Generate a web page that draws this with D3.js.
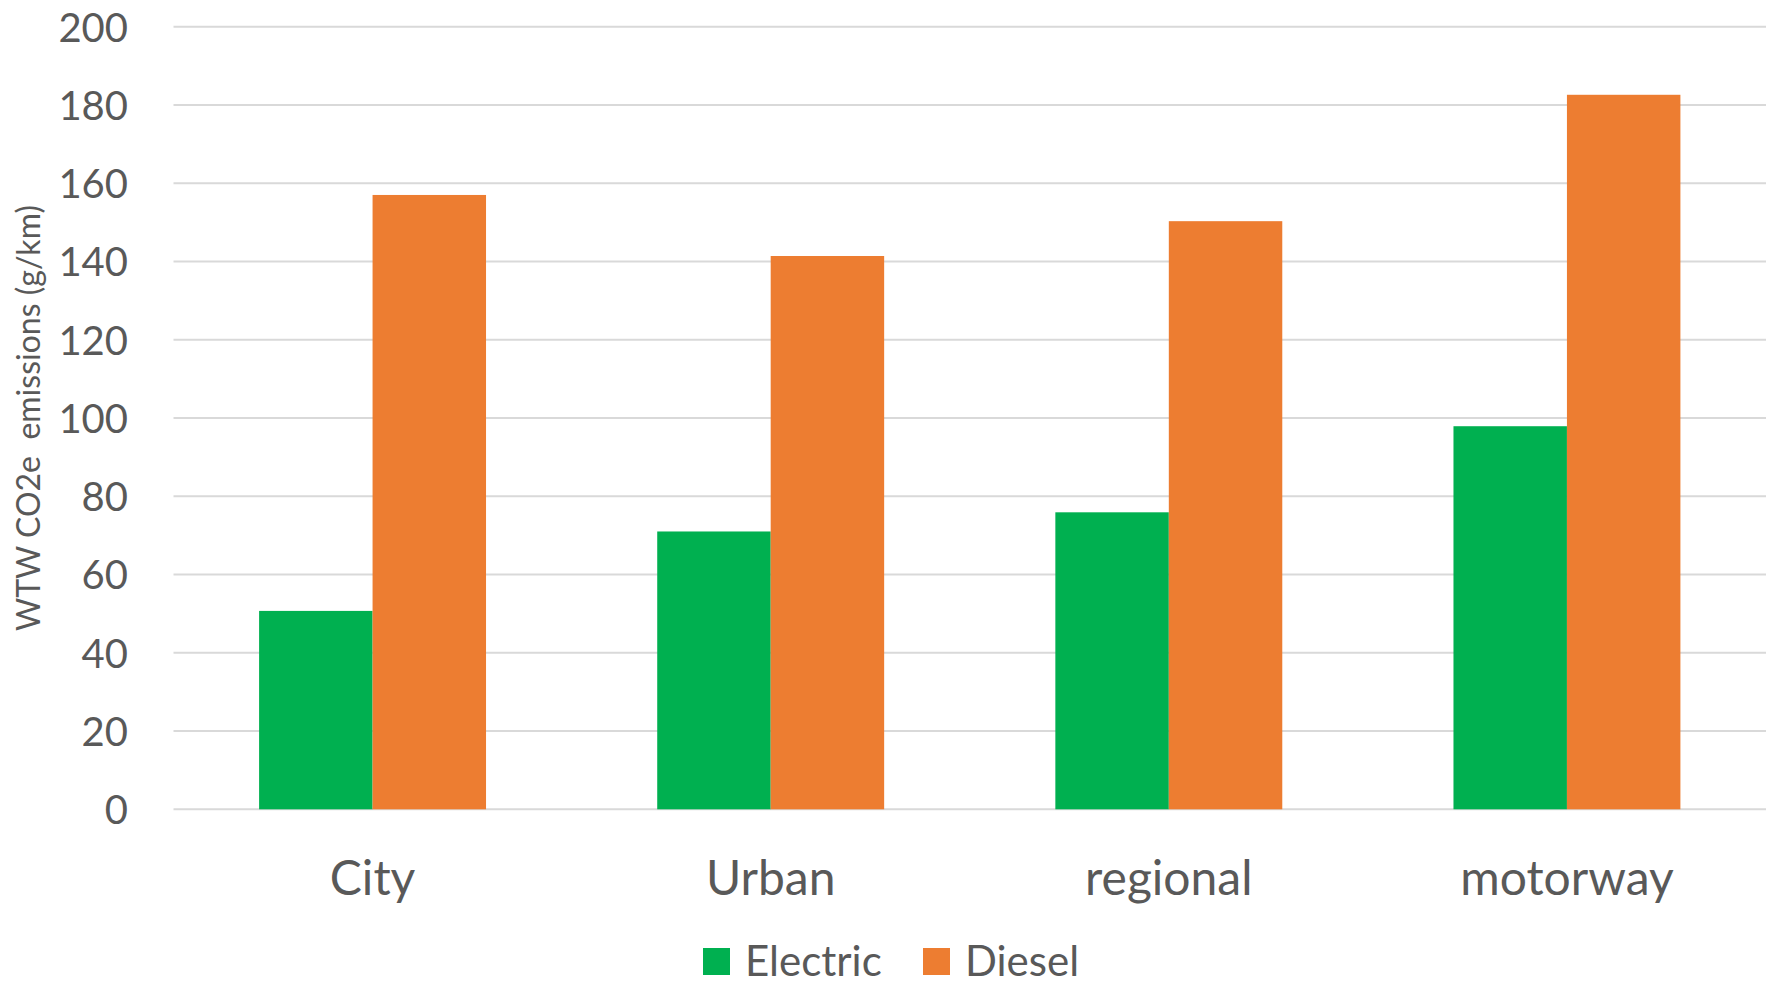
<!DOCTYPE html>
<html>
<head>
<meta charset="utf-8">
<script src="https://cdn.jsdelivr.net/npm/d3@7"></script>
<style>
  html, body { margin: 0; padding: 0; background: #fff; overflow: hidden; }
  svg { display: block; }
</style>
</head>
<body>
<svg id="chart" width="1775" height="982"></svg>
<script>
const categories = ["City", "Urban", "regional", "motorway"];
const seriesNames = ["Electric", "Diesel"];
const electricValues = [50.7, 71.0, 75.9, 97.9];
const dieselValues = [157.0, 141.4, 150.3, 182.6];
const yTicks = [0, 20, 40, 60, 80, 100, 120, 140, 160, 180, 200];
const yTitle = "WTW CO2e\u00a0 emissions (g/km)";
const colors = ["#00b050", "#ed7d31"];

const svg = d3.select("#chart");
const textColor = "#595959";
const font = "Lato, 'Open Sans', sans-serif";

const plotLeft = 173.5, plotRight = 1766, plotTop = 26.7, plotBottom = 809.3;

const x = d3.scaleBand().domain(categories).range([plotLeft, plotRight])
  .paddingInner(0.43).paddingOuter(0.215);
const xs = d3.scaleBand().domain(seriesNames).range([0, x.bandwidth()]).padding(0);
const y = d3.scaleLinear().domain([0, 200]).range([plotBottom, plotTop]);

// gridlines
svg.append("g").selectAll("line").data(yTicks).join("line")
  .attr("x1", plotLeft).attr("x2", plotRight)
  .attr("y1", d => y(d)).attr("y2", d => y(d))
  .attr("stroke", "#d9d9d9").attr("stroke-width", 2);

// y axis labels
const yAxis = d3.axisLeft(y).tickValues(yTicks).tickSize(0).tickPadding(0);
const gy = svg.append("g").attr("transform", `translate(128,0)`).call(yAxis);
gy.select(".domain").remove();
gy.selectAll("text").attr("font-family", font).attr("font-size", 40)
  .attr("fill", textColor).attr("dy", "0.36em");

// bars
const data = categories.map((c, i) => ({ cat: c, vals: [electricValues[i], dieselValues[i]] }));
const groups = svg.append("g").selectAll("g").data(data).join("g")
  .attr("transform", d => `translate(${x(d.cat)},0)`);
groups.selectAll("rect").data(d => d.vals.map((v, j) => ({ s: seriesNames[j], v, j })))
  .join("rect")
  .attr("x", d => xs(d.s)).attr("width", xs.bandwidth())
  .attr("y", d => y(d.v)).attr("height", d => y(0) - y(d.v))
  .attr("fill", d => colors[d.j]);

// x axis labels
const xAxis = d3.axisBottom(x).tickSize(0).tickPadding(0);
const gx = svg.append("g").attr("transform", `translate(0,${plotBottom})`).call(xAxis);
gx.select(".domain").remove();
gx.selectAll("text").attr("font-family", font).attr("font-size", 48)
  .attr("fill", textColor).attr("dy", null).attr("y", 86);

// y title
svg.append("text")
  .attr("transform", `translate(40,${(plotTop + plotBottom) / 2}) rotate(-90)`)
  .attr("text-anchor", "middle")
  .attr("font-family", font).attr("font-size", 32).attr("fill", textColor)
  .style("white-space", "pre")
  .text(yTitle);

// legend
const legendItems = [
  { name: seriesNames[0], color: colors[0], sx: 703, tx: 745 },
  { name: seriesNames[1], color: colors[1], sx: 923, tx: 965 }
];
const lg = svg.append("g");
lg.selectAll("rect").data(legendItems).join("rect")
  .attr("x", d => d.sx).attr("y", 948).attr("width", 27).attr("height", 27)
  .attr("fill", d => d.color);
lg.selectAll("text").data(legendItems).join("text")
  .attr("x", d => d.tx).attr("y", 976)
  .attr("font-family", font).attr("font-size", 42).attr("fill", textColor)
  .text(d => d.name);
</script>
</body>
</html>
